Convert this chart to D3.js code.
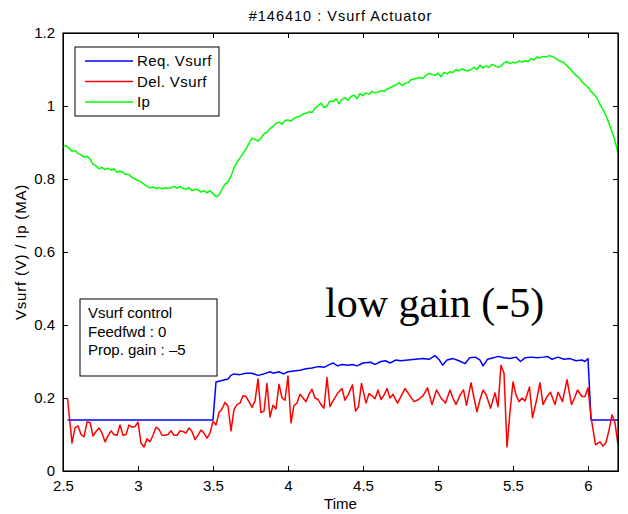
<!DOCTYPE html>
<html>
<head>
<meta charset="utf-8">
<script src="https://cdn.jsdelivr.net/npm/d3@7"></script>
<style>
    body { margin: 0; background: #fff; }
    text { font-family: "Liberation Sans", Arial, sans-serif; fill: #000; }
    .axis path, .axis line { stroke: #000; }
</style>
</head>
<body>
<div id="chart"></div>
<script>

// Ip (MA), sampled every 0.02 s starting at 2.5
let ipStart = 2.5, ipStep = 0.02;
let ipVal = [
    0.888, 0.892, 0.884, 0.876, 0.878, 0.870, 0.866, 0.860, 0.862, 0.855,
    0.840, 0.836, 0.828, 0.832, 0.826, 0.830, 0.824, 0.828, 0.818, 0.822,
    0.818, 0.812, 0.812, 0.804, 0.800, 0.796, 0.792, 0.786, 0.780, 0.776,
    0.778, 0.774, 0.777, 0.773, 0.776, 0.774, 0.776, 0.780, 0.775, 0.780,
    0.774, 0.772, 0.776, 0.768, 0.772, 0.770, 0.764, 0.768, 0.762, 0.768,
    0.760, 0.752, 0.756, 0.772, 0.786, 0.792, 0.808, 0.830, 0.846, 0.858,
    0.870, 0.882, 0.898, 0.912, 0.908, 0.904, 0.912, 0.924, 0.928, 0.938,
    0.944, 0.952, 0.956, 0.950, 0.960, 0.962, 0.958, 0.966, 0.970, 0.972,
    0.978, 0.980, 0.984, 0.982, 0.994, 1.000, 1.008, 0.996, 1.000, 1.014,
    1.012, 1.020, 1.006, 1.018, 1.022, 1.016, 1.026, 1.030, 1.020, 1.034,
    1.028, 1.036, 1.032, 1.040, 1.036, 1.038, 1.042, 1.040, 1.046, 1.050,
    1.054, 1.058, 1.064, 1.056, 1.062, 1.064, 1.072, 1.074, 1.076, 1.078,
    1.076, 1.084, 1.090, 1.086, 1.084, 1.090, 1.080, 1.092, 1.088, 1.094,
    1.092, 1.100, 1.096, 1.102, 1.098, 1.096, 1.100, 1.106, 1.100, 1.112,
    1.104, 1.110, 1.106, 1.114, 1.110, 1.106, 1.110, 1.118, 1.122, 1.116,
    1.120, 1.118, 1.124, 1.120, 1.124, 1.122, 1.130, 1.126, 1.134, 1.132,
    1.136, 1.134, 1.138, 1.136, 1.132, 1.126, 1.122, 1.118, 1.110, 1.102,
    1.092, 1.084, 1.078, 1.066, 1.058, 1.052, 1.040, 1.032, 1.022, 1.004,
    0.990, 0.974, 0.952, 0.930, 0.904, 0.872
];

// requested surface voltage (V)
let reqTime = [
    2.53, 3.50, 3.52, 3.56, 3.60, 3.62, 3.64, 3.68, 3.72, 3.76,
    3.80, 3.84, 3.88, 3.90, 3.94, 3.97, 4.00, 4.04, 4.08, 4.12,
    4.16, 4.20, 4.24, 4.28, 4.30, 4.33, 4.36, 4.40, 4.43, 4.46,
    4.50, 4.55, 4.58, 4.62, 4.65, 4.68, 4.72, 4.75, 4.80, 4.85,
    4.90, 4.94, 4.98, 5.01, 5.03, 5.06, 5.10, 5.14, 5.18, 5.21,
    5.25, 5.28, 5.30, 5.33, 5.37, 5.40, 5.44, 5.48, 5.52, 5.55,
    5.58, 5.62, 5.66, 5.70, 5.73, 5.76, 5.80, 5.84, 5.88, 5.92,
    5.96, 5.98, 6.00, 6.02, 6.20
];
let reqVal = [
    0.140, 0.140, 0.244, 0.248, 0.252, 0.262, 0.266, 0.264, 0.268, 0.268,
    0.262, 0.266, 0.272, 0.268, 0.272, 0.266, 0.272, 0.274, 0.276, 0.280,
    0.282, 0.286, 0.284, 0.292, 0.296, 0.288, 0.292, 0.290, 0.292, 0.288,
    0.296, 0.298, 0.292, 0.300, 0.302, 0.296, 0.304, 0.302, 0.304, 0.306,
    0.308, 0.306, 0.316, 0.304, 0.290, 0.304, 0.308, 0.302, 0.294, 0.310,
    0.312, 0.304, 0.288, 0.306, 0.310, 0.314, 0.310, 0.308, 0.312, 0.300,
    0.310, 0.312, 0.310, 0.312, 0.314, 0.306, 0.312, 0.306, 0.308, 0.302,
    0.304, 0.300, 0.308, 0.140, 0.140
];

// delivered surface voltage (V)
let delTime = [
    2.53, 2.56, 2.58, 2.60, 2.62, 2.64, 2.66, 2.68, 2.70, 2.72,
    2.74, 2.76, 2.78, 2.80, 2.82, 2.84, 2.86, 2.88, 2.90, 2.92,
    2.94, 2.96, 2.98, 3.00, 3.02, 3.04, 3.06, 3.08, 3.10, 3.12,
    3.14, 3.16, 3.18, 3.20, 3.22, 3.24, 3.26, 3.28, 3.30, 3.32,
    3.34, 3.36, 3.38, 3.40, 3.42, 3.44, 3.46, 3.48, 3.50, 3.52,
    3.54, 3.56, 3.58, 3.60, 3.62, 3.64, 3.66, 3.68, 3.70, 3.72,
    3.74, 3.76, 3.78, 3.80, 3.82, 3.84, 3.86, 3.88, 3.90, 3.92,
    3.94, 3.96, 3.98, 4.00, 4.02, 4.04, 4.06, 4.08, 4.10, 4.12,
    4.14, 4.16, 4.18, 4.20, 4.22, 4.24, 4.26, 4.28, 4.30, 4.33,
    4.36, 4.38, 4.40, 4.43, 4.45, 4.47, 4.49, 4.52, 4.54, 4.56,
    4.58, 4.60, 4.62, 4.64, 4.66, 4.68, 4.70, 4.73, 4.76, 4.78,
    4.81, 4.84, 4.87, 4.90, 4.93, 4.96, 4.99, 5.02, 5.05, 5.08,
    5.10, 5.12, 5.15, 5.17, 5.19, 5.22, 5.24, 5.26, 5.28, 5.30,
    5.32, 5.35, 5.38, 5.40, 5.42, 5.44, 5.46, 5.48, 5.50, 5.52,
    5.54, 5.56, 5.58, 5.61, 5.63, 5.66, 5.68, 5.70, 5.73, 5.75,
    5.78, 5.80, 5.83, 5.86, 5.89, 5.91, 5.93, 5.96, 5.98, 6.00,
    6.02, 6.05, 6.08, 6.10, 6.12, 6.14, 6.16, 6.18, 6.20
];
let delVal = [
    0.200, 0.077, 0.118, 0.124, 0.100, 0.094, 0.134, 0.133, 0.096, 0.108,
    0.118, 0.104, 0.080, 0.096, 0.110, 0.100, 0.098, 0.126, 0.098, 0.100,
    0.126, 0.120, 0.122, 0.134, 0.076, 0.066, 0.088, 0.080, 0.098, 0.120,
    0.114, 0.098, 0.098, 0.100, 0.110, 0.098, 0.098, 0.110, 0.108, 0.104,
    0.118, 0.108, 0.086, 0.098, 0.112, 0.104, 0.090, 0.104, 0.136, 0.126,
    0.160, 0.170, 0.188, 0.178, 0.110, 0.168, 0.182, 0.186, 0.206, 0.204,
    0.190, 0.174, 0.192, 0.252, 0.160, 0.164, 0.240, 0.148, 0.180, 0.170,
    0.238, 0.200, 0.194, 0.260, 0.132, 0.180, 0.186, 0.210, 0.200, 0.190,
    0.210, 0.224, 0.200, 0.196, 0.182, 0.172, 0.256, 0.176, 0.192, 0.212,
    0.226, 0.194, 0.208, 0.236, 0.164, 0.176, 0.240, 0.186, 0.212, 0.206,
    0.198, 0.222, 0.196, 0.208, 0.226, 0.200, 0.210, 0.186, 0.210, 0.226,
    0.208, 0.190, 0.196, 0.206, 0.228, 0.182, 0.222, 0.200, 0.186, 0.222,
    0.200, 0.182, 0.210, 0.222, 0.180, 0.242, 0.200, 0.162, 0.196, 0.222,
    0.210, 0.172, 0.214, 0.176, 0.290, 0.268, 0.066, 0.162, 0.244, 0.208,
    0.190, 0.200, 0.192, 0.230, 0.146, 0.200, 0.242, 0.182, 0.206, 0.216,
    0.182, 0.216, 0.190, 0.250, 0.182, 0.200, 0.222, 0.204, 0.204, 0.228,
    0.148, 0.072, 0.080, 0.068, 0.078, 0.112, 0.154, 0.132, 0.072
];

let xTicks = [2.5, 3, 3.5, 4, 4.5, 5, 5.5, 6];
let yTicks = [0, 0.2, 0.4, 0.6, 0.8, 1, 1.2];
let legendNames = ["Req. Vsurf", "Del. Vsurf", "Ip"];
let legendColors = ["#0000ff", "#ff0000", "#00ff00"];
let noteLines = ["Vsurf control", "Feedfwd : 0", "Prop. gain : \u20135"];


let margin = { top: 33, right: 10, bottom: 43, left: 63 };
let width = 628 - margin.left - margin.right,
    height = 514 - margin.top - margin.bottom;

let svg = d3.select("#chart").append("svg")
    .attr("width", 628)
    .attr("height", 514);

let g = svg.append("g")
    .attr("transform", "translate(" + margin.left + "," + margin.top + ")");

// Scales
let x = d3.scaleLinear().domain([2.5, 6.2]).range([0, width]);
let y = d3.scaleLinear().domain([0, 1.2]).range([height, 0]);

let fmt = d3.format("~g");

// Axes, MATLAB style: ticks pointing inwards on all four sides
g.append("g").attr("class", "axis")
    .attr("transform", "translate(0," + height + ")")
    .call(d3.axisBottom(x).tickValues(xTicks).tickFormat(fmt).tickSizeInner(-5).tickSizeOuter(0).tickPadding(9))
    .call(a => a.selectAll("text").style("font-size", "15px"));

g.append("g").attr("class", "axis")
    .call(d3.axisTop(x).tickValues(xTicks).tickFormat("").tickSizeInner(-5).tickSizeOuter(0));

g.append("g").attr("class", "axis")
    .call(d3.axisLeft(y).tickValues(yTicks).tickFormat(fmt).tickSizeInner(-5).tickSizeOuter(0).tickPadding(8))
    .call(a => a.selectAll("text").style("font-size", "15px"));

g.append("g").attr("class", "axis")
    .attr("transform", "translate(" + width + ",0)")
    .call(d3.axisRight(y).tickValues(yTicks).tickFormat("").tickSizeInner(-5).tickSizeOuter(0));

// clip for the traces
g.append("clipPath").attr("id", "clip")
    .append("rect").attr("width", width).attr("height", height);

let line = d3.line()
    .x(d => x(d[0]))
    .y(d => y(d[1]));

let ipData = ipVal.map((v, i) => [ipStart + i * ipStep, v]);
let reqData = reqTime.map((t, i) => [t, reqVal[i]]);
let delData = delTime.map((t, i) => [t, delVal[i]]);

let traces = g.append("g").attr("clip-path", "url(#clip)");

[[reqData, legendColors[0]], [delData, legendColors[1]], [ipData, legendColors[2]]].forEach(function (s) {
    traces.append("path")
        .datum(s[0])
        .attr("fill", "none")
        .attr("stroke", s[1])
        .attr("stroke-width", 1.5)
        .attr("stroke-linejoin", "round")
        .attr("d", line);
});

// Axes box
g.append("rect")
    .attr("width", width)
    .attr("height", height)
    .attr("fill", "none")
    .attr("stroke", "#000")
    .attr("stroke-width", 1.2);

// Title and axis labels
svg.append("text")
    .attr("x", margin.left + width / 2)
    .attr("y", 21)
    .attr("text-anchor", "middle")
    .style("font-size", "14.5px")
    .style("letter-spacing", "1px")
    .text("#146410 : Vsurf Actuator");

svg.append("text")
    .attr("x", margin.left + width / 2)
    .attr("y", 509)
    .attr("text-anchor", "middle")
    .style("font-size", "15px")
    .text("Time");

svg.append("text")
    .attr("transform", "translate(26," + (margin.top + height / 2) + ") rotate(-90)")
    .attr("text-anchor", "middle")
    .style("font-size", "15px")
    .style("letter-spacing", "0.8px")
    .text("Vsurf (V) / Ip (MA)");

// Legend
let legend = svg.append("g").attr("transform", "translate(75,47)");

legend.append("rect")
    .attr("width", 144)
    .attr("height", 69)
    .attr("fill", "#fff")
    .attr("stroke", "#000");

legendNames.forEach(function (name, i) {
    let row = legend.append("g").attr("transform", "translate(0," + (14 + i * 20.5) + ")");
    row.append("line")
        .attr("x1", 10).attr("x2", 58)
        .attr("stroke", legendColors[i])
        .attr("stroke-width", 1.5);
    row.append("text")
        .attr("x", 62)
        .attr("y", 5)
        .style("font-size", "15px")
        .style("letter-spacing", "0.4px")
        .text(name);
});

// Controller settings box
let note = svg.append("g").attr("transform", "translate(80,299)");

note.append("rect")
    .attr("width", 137)
    .attr("height", 77)
    .attr("fill", "#fff")
    .attr("stroke", "#000");

noteLines.forEach(function (s, i) {
    note.append("text")
        .attr("x", 8)
        .attr("y", 19 + i * 18.5)
        .style("font-size", "15px")
        .text(s);
});

// Annotation
svg.append("text")
    .attr("x", 325)
    .attr("y", 317)
    .style("font-family", "'Liberation Serif', 'Times New Roman', serif")
    .style("font-size", "42px")
    .text("low gain (-5)");

</script>
</body>
</html>
